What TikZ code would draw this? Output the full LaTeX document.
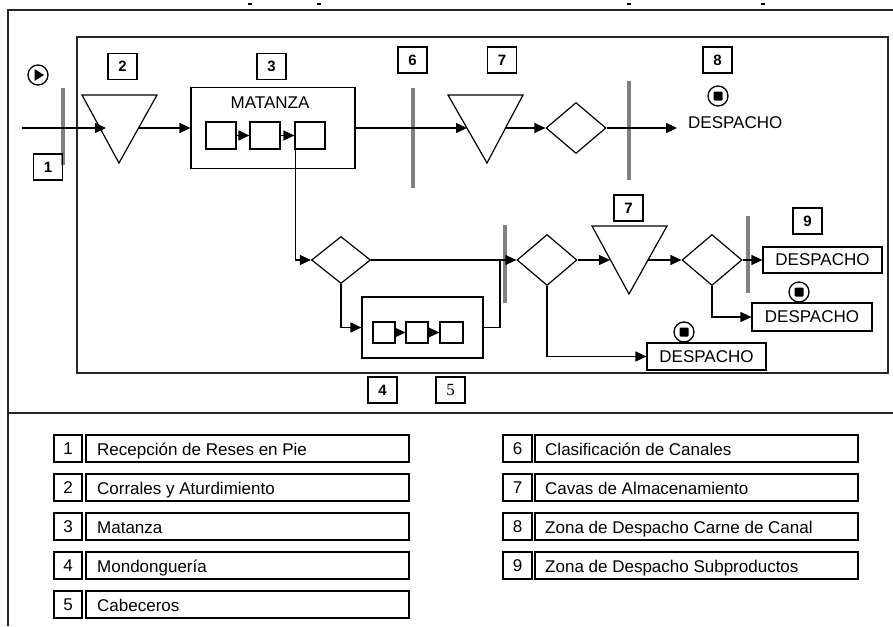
\documentclass[tikz,border=0pt]{standalone}
\usepackage{fontspec}
\setmainfont{Liberation Sans}
\newfontfamily\serifnum{Liberation Serif}
\usetikzlibrary{arrows.meta,shapes.geometric}
\begin{document}
\begin{tikzpicture}[x=1pt,y=-1pt,
  frame/.style={line width=1.4pt, draw=black!85},
  shp/.style={draw, line width=1.2pt},
  box/.style={draw, line width=1.2pt, inner sep=0pt},
  dia/.style={diamond, draw, line width=1.2pt, inner sep=0pt, minimum width=60pt, minimum height=51pt},
  num/.style={draw, line width=1.2pt, inner sep=0pt, minimum width=29pt, minimum height=26pt, font=\fontsize{15}{17}\selectfont\bfseries},
  bar/.style={draw=black!50, line width=4pt},
  flow/.style={line width=1.2pt, -{Triangle[length=11pt,width=10pt]}},
  plain/.style={line width=1.2pt},
  desp/.style={draw, line width=1.2pt, inner sep=0pt, font=\fontsize{17}{20}\selectfont},
  stopc/.style={circle, draw, line width=1.3pt, minimum size=20pt, inner sep=0pt},
  stopq/.style={fill, minimum size=9pt, inner sep=0pt, rounded corners=1pt},
  legn/.style={draw, line width=1.2pt, inner sep=0pt, minimum height=27pt, font=\fontsize{17}{20}\selectfont},
  legt/.style={anchor=base west, inner sep=0pt, font=\fontsize{17}{20}\selectfont}
]
\useasboundingbox (0,0) rectangle (893,626);
\fill[white] (0,0) rectangle (893,626);

% frames
\draw[frame] (8,626) -- (8,10) -- (893,10);
\draw[frame] (8,413) -- (893,413);
\draw[frame] (77,37) rectangle (888,373);
\foreach \x in {250,319,629,763} \draw[line width=1.5pt] (\x-2,4) -- (\x+2,4);

% ---------- top flow ----------
\coordinate (start) at (22,128);
\draw[bar] (63,88) -- (63,165);
\node[stopc] (play) at (38,75) {};
\fill (34.5,69) -- (44,75) -- (34.5,81) -- cycle;
\node[num] (n1) at (48,167) {1};

\draw[shp] (82,95) -- (157,95) -- (119,163) -- cycle;
\coordinate (t2in) at (106,128);
\coordinate (t2out) at (139,128);
\node[num] (n2) at (122.5,66.5) {2};
\draw[flow] (start) -- (t2in);

\node[box, minimum width=164pt, minimum height=81pt] (mat) at (273,128) {};
\node[inner sep=0pt, font=\fontsize{17}{20}\selectfont, anchor=base] (matl) at (270,108) {MATANZA};
\node[box, minimum width=30pt, minimum height=27pt] (m1) at (221,135.5) {};
\node[box, minimum width=30pt, minimum height=27pt] (m2) at (265,135.5) {};
\node[box, minimum width=30pt, minimum height=27pt] (m3) at (310,135.5) {};
\draw[flow] (m1.east) -- (m2.west);
\draw[flow] (m2.east) -- (m3.west);
\node[num] (n3) at (271.5,66.5) {3};
\draw[flow] (t2out) -- (mat.west);

\draw[bar] (413,88) -- (413,188);
\node[num] (n6) at (412.5,60) {6};

\draw[shp] (448,95) -- (523,95) -- (487,163) -- cycle;
\coordinate (t7in) at (467,128);
\coordinate (t7out) at (505,128);
\node[num] (n7) at (502,60) {7};
\draw[flow] (mat.east) -- (t7in);

\node[dia] (dT) at (576,128) {};
\draw[flow] (t7out) -- (dT.west);
\draw[bar] (629,81) -- (629,180);
\coordinate (end8) at (677,128);
\draw[flow] (dT.east) -- (end8);
\node[inner sep=0pt, anchor=base west, font=\fontsize{17}{20}\selectfont] (desp8) at (688,128) {DESPACHO};
\node[stopc] (stop8) at (718,96) {};
\node[stopq] at (stop8) {};
\node[num] (n8) at (717.5,60) {8};

% ---------- lower flow ----------
\node[dia, minimum width=59pt, minimum height=47pt] (dA) at (341,260) {};
\draw[flow] ([xshift=1pt]m3.west) |- (dA.west);

\node[dia] (dB) at (547,260) {};
\draw[bar] (505,225) -- (505,303);
\draw[flow] (dA.east) -- (dB.west);

\node[box, minimum width=121pt, minimum height=61pt] (b45) at (422.5,327.5) {};
\node[box, minimum width=22pt, minimum height=21pt] (s1) at (384,332.5) {};
\node[box, minimum width=22pt, minimum height=21pt] (s2) at (417,332.5) {};
\node[box, minimum width=23pt, minimum height=21pt] (s3) at (451.5,332.5) {};
\draw[flow] (s1.east) -- (s2.west);
\draw[flow] (s2.east) -- (s3.west);
\draw[flow] (dA.south) |- (b45.west);
\coordinate (join) at (500,260);
\draw[plain] (b45.east) -| (join);
\node[num] (n4) at (382.5,390) {4};
\node[num, font=\fontsize{17}{19}\selectfont\serifnum] (n5) at (450.5,390) {5};

\draw[shp] (592,226) -- (667,226) -- (629,294) -- cycle;
\coordinate (t7bin) at (610,260);
\coordinate (t7bout) at (648,260);
\node[num] (n7b) at (628.5,208) {7};
\draw[flow] (dB.east) -- (t7bin);

\node[dia] (dC) at (712,260) {};
\draw[flow] (t7bout) -- (dC.west);
\draw[bar] (748,216) -- (748,293);

\node[desp, minimum width=119pt, minimum height=26pt] (d1) at (822.5,260) {DESPACHO};
\node[desp, minimum width=120pt, minimum height=28pt] (d2) at (812,317) {DESPACHO};
\node[desp, minimum width=119pt, minimum height=27pt] (d3) at (706.5,356.5) {DESPACHO};
\draw[flow] (dC.east) -- (d1.west);
\draw[flow] (dC.south) |- (d2.west);
\draw[flow] (dB.south) |- (d3.west);
\node[num] (n9) at (807.5,221) {9};
\node[stopc] (stop9) at (799,292) {};
\node[stopq] at (stop9) {};
\node[stopc] (stop3) at (684,332) {};
\node[stopq] at (stop3) {};

% ---------- legend ----------
\foreach \i/\y/\t in {1/448.5/Recepción de Reses en Pie, 2/487.5/Corrales y Aturdimiento, 3/526.5/Matanza, 4/565.5/Mondonguería, 5/604.5/Cabeceros}{
  \node[legn, minimum width=28pt] (ln\i) at (68,\y) {\i};
  \node[legn, minimum width=323pt] (lb\i) at (247.5,\y) {};
  \node[legt] (lt\i) at (97,\y+7) {\t};
}
\foreach \i/\y/\t in {6/448.5/Clasificación de Canales, 7/487.5/Cavas de Almacenamiento, 8/526.5/Zona de Despacho Carne de Canal, 9/565.5/Zona de Despacho Subproductos}{
  \node[legn, minimum width=29pt] (ln\i) at (517.5,\y) {\i};
  \node[legn, minimum width=323pt] (lb\i) at (696.5,\y) {};
  \node[legt] (lt\i) at (545,\y+7) {\t};
}
\end{tikzpicture}
\end{document}
